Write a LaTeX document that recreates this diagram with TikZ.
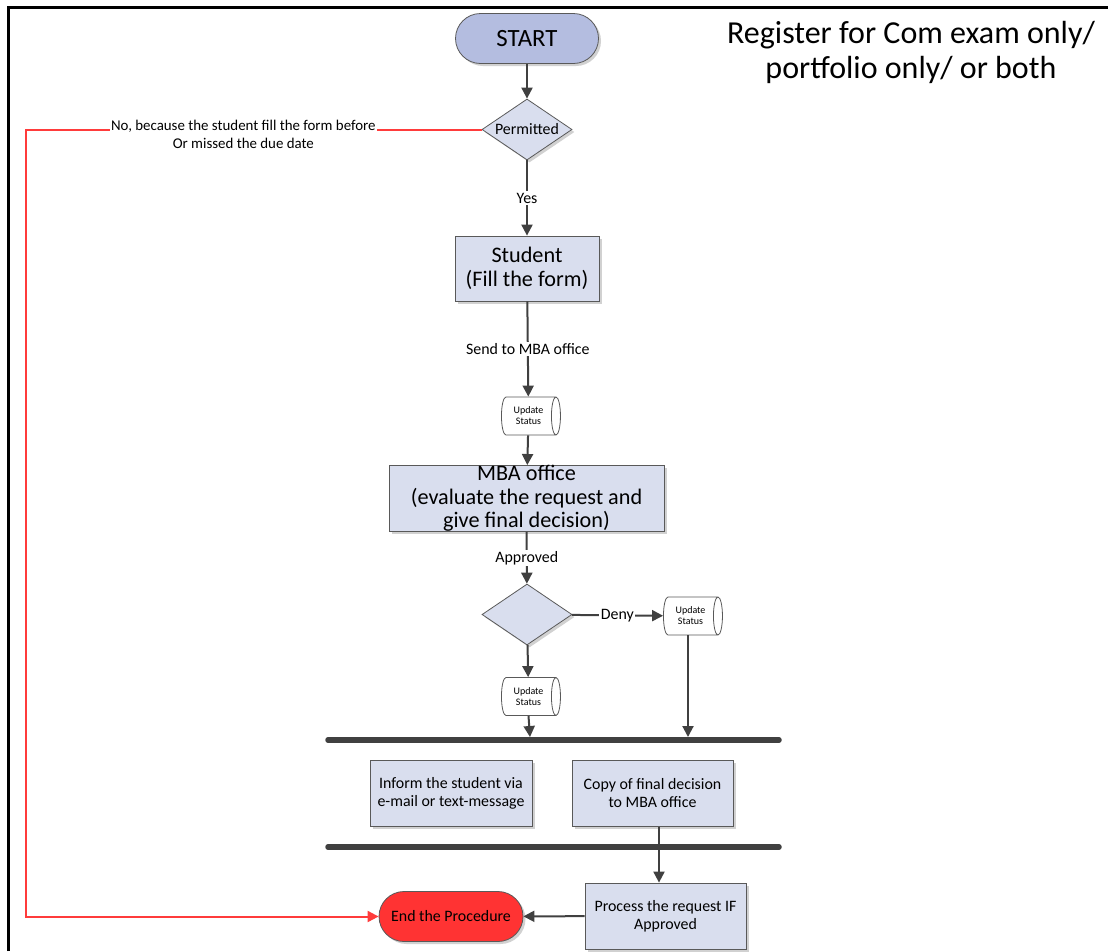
\documentclass[tikz,border=0pt]{standalone}
\usepackage{fontspec}
\setmainfont{Carlito}
\usetikzlibrary{shapes.geometric,shadows,arrows.meta}

\definecolor{boxfill}{HTML}{D9DEEE}
\definecolor{startfill}{HTML}{B4BDE0}
\definecolor{endfill}{HTML}{FF3333}
\definecolor{edgegray}{HTML}{595959}
\definecolor{linegray}{HTML}{404040}
\definecolor{rejectred}{HTML}{FF3B3B}

\newcommand\fntLabel{\fontsize{15.9}{18}\selectfont}
\newcommand\fntNote{\fontsize{14.9}{17.5}\selectfont}
\newcommand\fntBig{\fontsize{22.2}{23.5}\selectfont}
\newcommand\fntStart{\fontsize{24.8}{28}\selectfont}
\newcommand\fntTitle{\fontsize{32}{35}\selectfont}
\newcommand\fntTiny{\fontsize{10}{11}\selectfont}

\tikzset{
  boxshadow/.style={drop shadow={shadow xshift=2.5pt, shadow yshift=-2.5pt, fill=black, opacity=0.18}},
  procbox/.style={rectangle, draw=edgegray, line width=0.8pt, fill=boxfill, align=center,
    inner sep=0pt, boxshadow},
  terminal/.style={rectangle, rounded corners=25pt, draw=edgegray, line width=0.8pt,
    minimum width=143pt, minimum height=50pt, inner sep=0pt, boxshadow},
  choice/.style={diamond, draw=edgegray, line width=0.8pt, fill=boxfill, aspect=1.475,
    minimum width=90pt, minimum height=61pt, inner sep=0pt, boxshadow, font=\fntLabel},
  store/.style={cylinder, draw=edgegray, line width=0.8pt, fill=white, shape aspect=0.5,
    minimum height=59pt, minimum width=38pt, inner sep=0pt, align=center, font=\fntTiny},
  arr/.style={draw=linegray, line width=2pt, -{Triangle[length=11pt,width=11pt]}},
  lbl/.style={fill=white, inner sep=1.5pt, font=\fntLabel, text=black},
  syncbar/.style={draw=linegray, line width=5.5pt, line cap=round},
  rejectline/.style={draw=rejectred, line width=2pt, -{Triangle[length=11pt,width=11pt]}},
}

\begin{document}
\begin{tikzpicture}[x=1pt,y=-1pt]
\useasboundingbox (0,0) rectangle (1108,951);

% outer frame (top and left edges)
\draw[line width=3pt] (8,951) -- (8,7) -- (1108,7);

% heading
\node[font=\fntTitle, align=center] (title) at (911,52)
  {Register for Com exam only/\\portfolio only/ or both};

% main column
\node[terminal, fill=startfill, font=\fntStart] (start) at (527,38.5) {START};
\node[choice] (perm) at (527,129.5) {Permitted};
\node[procbox, minimum width=144pt, minimum height=65pt, font=\fntBig] (student) at (527,268.5)
  {Student\\(Fill the form)};
\node[store] (u1) at (528.5,416) {Update\\Status};
\node[procbox, minimum width=275pt, minimum height=66pt, font=\fntBig] (mba) at (526.5,498.5)
  {MBA office\\(evaluate the request and\\give final decision)};
\node[choice] (dec) at (527,614.5) {};
\node[store] (u2) at (690.5,616) {Update\\Status};
\node[store] (u3) at (528.5,696.5) {Update\\Status};

% synchronisation bars
\coordinate (b1L) at (328,740);
\coordinate (b1R) at (779,740);
\coordinate (b2L) at (328,847);
\coordinate (b2R) at (779,847);
\coordinate (b1a) at (530,737);
\coordinate (b1b) at (688,737);

\node[procbox, minimum width=162pt, minimum height=66pt, font=\fntLabel] (inform) at (451,793.5)
  {Inform the student via\\e-mail or text-message};
\node[procbox, minimum width=161pt, minimum height=66pt, font=\fntLabel] (copy) at (652.5,793.5)
  {Copy of final decision\\to MBA office};
\node[procbox, minimum width=161pt, minimum height=66pt, font=\fntLabel] (proc) at (665.5,916)
  {Process the request IF\\Approved};
\node[terminal, fill=endfill, minimum width=144pt, font=\fntLabel] (end) at (451,916.5)
  {End the Procedure};

% connectors
\draw[arr] (start) -- (perm);
\draw[arr] (perm) -- node[lbl]{Yes} (student);
\draw[arr] (student) -- node[lbl]{Send to MBA office} (u1);
\draw[arr] (u1) -- (mba);
\draw[arr] (mba) -- node[lbl]{Approved} (dec);
\draw[arr] (dec) -- node[lbl]{Deny} (u2);
\draw[arr] (dec) -- (u3);
\draw[arr] (u3.south) -- (b1a);
\draw[arr] (u2.south -| b1b) -- (b1b);

\draw[syncbar] (b1L) -- (b1R);
\draw[syncbar] (b2L) -- (b2R);

\draw[arr] ([xshift=6.5pt]copy.south) -- ([xshift=-6.5pt]proc.north);
\draw[arr] (proc) -- (end);

% rejection path
\coordinate (r1) at (26,129.5);
\coordinate (r2) at (26,916.5);
\draw[rejectline] (perm.west) -- node[pos=0.523, yshift=-5pt, lbl, font=\fntNote, align=center]
  {No, because the student fill the form before\\Or missed the due date} (r1) -- (r2) -- (end.west);

\end{tikzpicture}
\end{document}
